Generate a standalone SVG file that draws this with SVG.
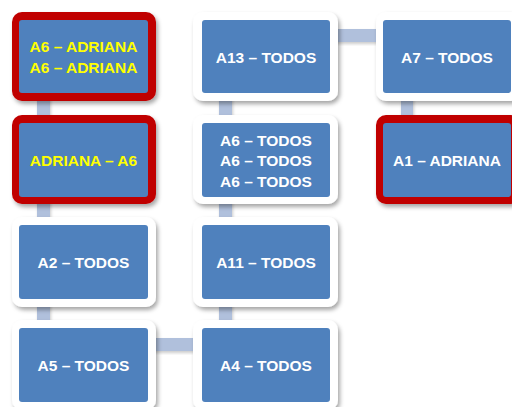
<svg xmlns="http://www.w3.org/2000/svg" width="512" height="407" viewBox="0 0 512 407">
  <defs>
    <filter id="shadow" x="-10%" y="-10%" width="125%" height="130%">
      <feDropShadow dx="2" dy="3" stdDeviation="2.2" flood-color="#000" flood-opacity="0.35"/>
    </filter>
    <filter id="barShadow" x="-20%" y="-20%" width="150%" height="150%">
      <feDropShadow dx="1" dy="2" stdDeviation="1.5" flood-color="#000" flood-opacity="0.2"/>
    </filter>
  </defs>
  <style>
    .frame { fill: #ffffff; filter: url(#shadow); }
    .frame.hl { fill: #c00000; }
    .box { fill: #4f81bd; }
    .bar { fill: #b0c0dc; filter: url(#barShadow); }
    text { font-family: "Liberation Sans", Arial, sans-serif; font-weight: bold; font-size: 15.5px; fill: #ffffff; text-anchor: middle; }
    text.hl { fill: #ffff00; }
  </style>
  <rect width="512" height="407" fill="#ffffff"/>

  <!-- connectors -->
  <g id="connectors">
    <rect class="bar" x="37" y="90" width="13" height="240"/>
    <rect class="bar" x="219" y="40" width="13" height="290"/>
    <rect class="bar" x="320" y="29" width="70" height="13"/>
    <rect class="bar" x="401" y="90" width="12" height="40"/>
    <rect class="bar" x="150" y="338" width="50" height="13"/>
  </g>

  <!-- column 1 -->
  <g id="n-a6-adriana">
    <rect class="frame hl" x="12" y="12" width="144" height="89" rx="10"/>
    <rect class="box" x="19" y="20" width="129" height="73" rx="3"/>
    <text class="hl" x="83.5" y="52">A6 – ADRIANA</text>
    <text class="hl" x="83.5" y="73">A6 – ADRIANA</text>
  </g>
  <g id="n-adriana-a6">
    <rect class="frame hl" x="12" y="115" width="144" height="89" rx="10"/>
    <rect class="box" x="19" y="123" width="129" height="74" rx="3"/>
    <text class="hl" x="83.5" y="165.5">ADRIANA – A6</text>
  </g>
  <g id="n-a2">
    <rect class="frame" x="12" y="217" width="144" height="90" rx="10"/>
    <rect class="box" x="19" y="225" width="129" height="74" rx="3"/>
    <text x="83.5" y="267.5">A2 – TODOS</text>
  </g>
  <g id="n-a5">
    <rect class="frame" x="12" y="320" width="144" height="90" rx="10"/>
    <rect class="box" x="19" y="328" width="129" height="74" rx="3"/>
    <text x="83.5" y="370.5">A5 – TODOS</text>
  </g>

  <!-- column 2 -->
  <g id="n-a13">
    <rect class="frame" x="193" y="12" width="145" height="89" rx="10"/>
    <rect class="box" x="202" y="20" width="128" height="73" rx="3"/>
    <text x="266" y="62.5">A13 – TODOS</text>
  </g>
  <g id="n-a6-todos">
    <rect class="frame" x="193" y="115" width="145" height="89" rx="10"/>
    <rect class="box" x="202" y="123" width="128" height="74" rx="3"/>
    <text x="266" y="145.5">A6 – TODOS</text>
    <text x="266" y="166">A6 – TODOS</text>
    <text x="266" y="186.5">A6 – TODOS</text>
  </g>
  <g id="n-a11">
    <rect class="frame" x="193" y="217" width="145" height="90" rx="10"/>
    <rect class="box" x="202" y="225" width="128" height="74" rx="3"/>
    <text x="266" y="267.5">A11 – TODOS</text>
  </g>
  <g id="n-a4">
    <rect class="frame" x="193" y="320" width="145" height="90" rx="10"/>
    <rect class="box" x="202" y="328" width="128" height="74" rx="3"/>
    <text x="266" y="370.5">A4 – TODOS</text>
  </g>

  <!-- column 3 -->
  <g id="n-a7">
    <rect class="frame" x="376" y="12" width="145" height="89" rx="10"/>
    <rect class="box" x="383" y="20" width="128" height="73" rx="3"/>
    <text x="447" y="62.5">A7 – TODOS</text>
  </g>
  <g id="n-a1">
    <rect class="frame hl" x="376" y="115" width="145" height="89" rx="10"/>
    <rect class="box" x="383" y="123" width="128" height="74" rx="3"/>
    <text x="447" y="165.5">A1 – ADRIANA</text>
  </g>
</svg>
